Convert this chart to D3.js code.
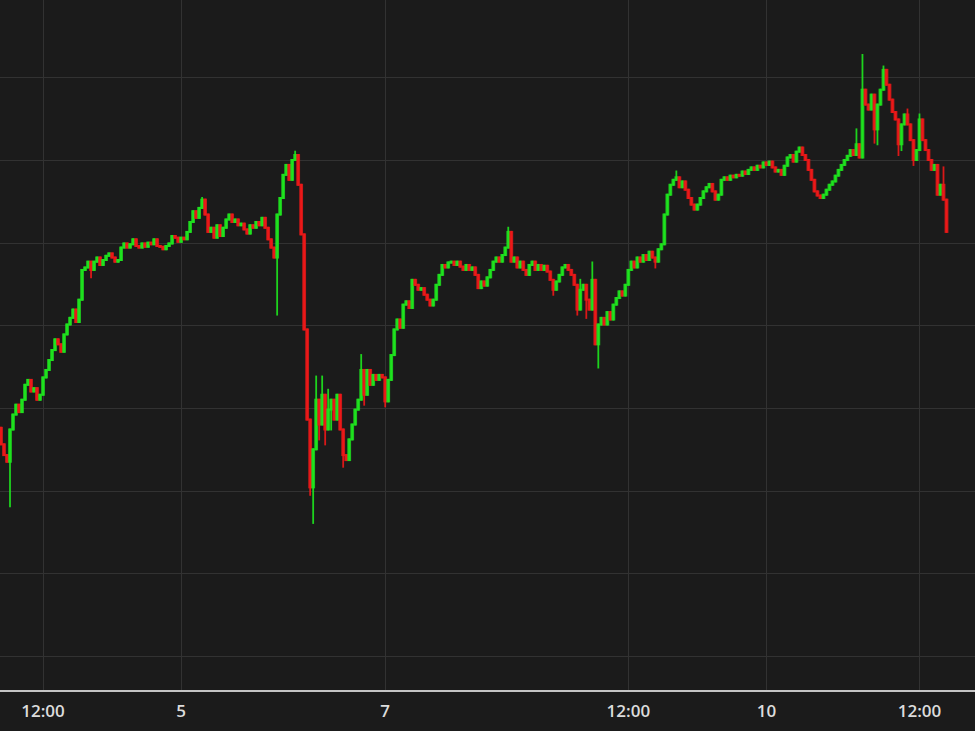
<!DOCTYPE html>
<meta charset="utf-8">
<style>

body {
  margin: 0;
  background: #1b1b1b;
}

svg {
  display: block;
}

.grid line {
  stroke: #323232;
  shape-rendering: crispEdges;
}

.axis text {
  font: 600 17px "Open Sans", sans-serif;
  fill: #dcdcdc;
}

.axis path {
  stroke: #c4c4c4;
  stroke-width: 2;
  shape-rendering: crispEdges;
}

.up { fill: #1ee81e; stroke: #1ee81e; }
.down { fill: #f01818; stroke: #f01818; }

</style>
<body>
<svg width="975" height="731"></svg>
<script src="https://d3js.org/d3.v7.min.js"></script>
<script>

// 15 minute closes, open of each bar = previous close
var firstOpen = 127.6;
var closes = [
  125.6,124.3,123.5,127.4,129.2,130.4,129.5,131.0,132.8,133.4,
  132.0,132.4,131.0,131.6,133.7,134.6,135.8,137.0,138.3,137.7,
  136.8,138.9,140.1,140.9,141.9,140.4,143.1,146.7,147.0,147.7,
  146.7,147.7,148.2,147.3,147.9,148.4,148.7,148.2,147.7,147.9,
  149.4,149.9,149.4,149.8,150.4,149.6,149.4,149.9,149.5,150.0,
  149.8,150.4,149.6,149.5,149.2,149.6,149.9,150.8,150.6,150.1,
  150.6,150.4,151.3,152.5,153.8,153.0,154.2,155.2,153.4,151.3,
  151.8,150.6,152.1,150.8,151.8,152.8,153.4,152.5,152.8,152.1,
  152.3,151.6,151.1,152.1,151.8,152.5,152.1,153.0,151.8,150.4,
  149.4,148.2,153.4,155.4,158.2,159.4,157.6,160.0,160.6,157.0,
  151.0,139.5,128.6,120.4,125.0,131.0,128.0,131.6,127.4,129.8,
  131.0,128.6,131.6,127.4,124.3,123.7,126.2,128.0,129.8,131.0,
  134.6,131.6,134.6,132.8,134.0,133.4,134.0,133.7,130.8,133.4,
  136.4,139.5,140.7,139.7,142.5,142.9,142.1,145.5,144.9,144.3,
  144.5,143.7,143.1,142.4,143.1,144.9,146.1,147.3,147.0,147.6,
  147.7,147.3,147.7,147.1,146.7,147.3,146.7,147.0,146.1,144.5,
  145.3,144.8,145.8,146.7,147.7,148.2,147.7,148.5,149.4,151.3,
  147.7,148.2,147.0,147.7,146.7,146.1,147.3,147.7,146.7,147.3,
  146.7,147.2,146.5,145.5,144.3,145.3,146.1,147.0,147.3,146.7,
  146.1,144.9,141.9,144.3,144.9,143.1,141.9,145.5,137.7,140.1,
  140.9,140.1,141.6,140.7,142.5,143.3,144.1,143.6,144.9,146.7,
  147.7,147.0,148.2,147.7,148.5,147.9,148.9,148.2,147.7,149.2,
  149.8,153.4,155.8,157.0,157.6,157.9,156.7,157.4,156.4,155.4,
  154.6,154.0,154.6,155.4,156.2,156.7,157.1,156.2,155.2,155.8,
  157.6,157.9,157.6,158.1,157.9,158.2,158.1,158.6,158.3,158.8,
  159.1,158.8,159.3,159.1,159.7,159.4,159.8,159.1,158.6,158.8,
  158.2,159.3,160.3,160.6,159.8,161.0,161.5,160.6,160.0,158.8,
  157.6,156.2,155.7,155.4,155.8,156.4,157.0,157.4,158.1,158.8,
  159.4,160.0,160.5,161.2,160.6,161.9,160.3,168.5,166.7,166.1,
  167.9,163.7,166.7,168.5,170.9,169.1,167.3,165.8,164.9,161.9,
  164.3,165.5,164.3,162.4,160.0,161.2,164.9,162.4,161.2,160.0,
  158.8,159.4,155.8,157.0,155.2,151.3
];

// bars whose wick reaches past the body (bar index -> price)
var wickLows = {3: 118.1, 30: 145.8, 92: 141.3, 103: 119.5, 104: 116.1, 106: 126.2,
  108: 125.6, 110: 127.4, 114: 122.9, 121: 130.4, 128: 130.2, 184: 143.7, 192: 141.3,
  195: 140.9, 199: 134.9, 218: 147.0, 291: 162.1, 292: 161.9, 299: 160.6, 300: 161.2,
  304: 159.4};
var wickHighs = {67: 155.4, 98: 161.0, 105: 133.8, 107: 133.8, 109: 132.2, 120: 136.4,
  169: 151.8, 193: 145.5, 197: 147.6, 225: 158.6, 285: 163.7, 287: 172.7, 294: 171.3,
  296: 168.5, 302: 166.1, 306: 165.5, 312: 159.1, 314: 159.1};

var tickIndex = [14, 60, 128, 209, 255, 306];
var tickText = ["12:00", "5", "7", "12:00", "10", "12:00"];
var gridPrices = [100, 110, 120, 130, 140, 150, 160, 170];

var svg = d3.select("svg"),
    width = +svg.attr("width"),
    axisY = 690;

var data = closes.map(function(c, i) {
  var o = i ? closes[i - 1] : firstOpen;
  var hi = Math.max(o, c), lo = Math.min(o, c);
  if (wickHighs[i] != null) hi = Math.max(hi, wickHighs[i]);
  if (wickLows[i] != null) lo = Math.min(lo, wickLows[i]);
  return {i: i, open: o, close: c, high: hi, low: lo};
});

var x = d3.scaleBand()
    .domain(data.map(function(d) { return d.i; }))
    .range([-0.5, 948])
    .paddingInner(0)
    .paddingOuter(0);

var y = d3.scaleLinear()
    .domain([100, 170])
    .range([656, 77.3]);

// grid
var grid = svg.append("g").attr("class", "grid");

grid.selectAll(".h")
  .data(gridPrices)
  .enter().append("line")
    .attr("class", "h")
    .attr("x1", 0)
    .attr("x2", width)
    .attr("y1", function(d) { return Math.round(y(d)) + 0.5; })
    .attr("y2", function(d) { return Math.round(y(d)) + 0.5; });

grid.selectAll(".v")
  .data(tickIndex)
  .enter().append("line")
    .attr("class", "v")
    .attr("x1", function(d) { return x(d) + x.bandwidth() / 2; })
    .attr("x2", function(d) { return x(d) + x.bandwidth() / 2; })
    .attr("y1", 0)
    .attr("y2", axisY);

// candles, slightly wider than a step so neighbours blend
var candle = svg.append("g").selectAll("g")
  .data(data)
  .enter().append("g")
    .attr("class", function(d) { return d.close >= d.open ? "up" : "down"; })
    .attr("fill-opacity", 0.82)
    .attr("stroke-opacity", 0.9);

candle.append("line")
    .attr("x1", function(d) { return x(d.i) + x.bandwidth() / 2; })
    .attr("x2", function(d) { return x(d.i) + x.bandwidth() / 2; })
    .attr("y1", function(d) { return y(d.high) - 1; })
    .attr("y2", function(d) { return y(d.low) + 1; })
    .attr("stroke-width", 1.8);

candle.append("rect")
    .attr("stroke", "none")
    .attr("x", function(d) { return x(d.i) - 0.4; })
    .attr("width", x.bandwidth() + 0.8)
    .attr("y", function(d) { return y(Math.max(d.open, d.close)) - 1; })
    .attr("height", function(d) { return Math.max(3, Math.abs(y(d.open) - y(d.close)) + 2); });

// time axis
svg.append("rect")
    .attr("x", 0)
    .attr("y", axisY)
    .attr("width", width)
    .attr("height", 731 - axisY)
    .attr("fill", "#1b1b1b");

svg.append("g")
    .attr("class", "axis")
    .attr("transform", "translate(0," + axisY + ")")
    .call(d3.axisBottom(x)
      .tickValues(tickIndex)
      .tickFormat(function(d, k) { return tickText[k]; })
      .tickSize(0)
      .tickPadding(15))
    .call(function(g) {
      g.select(".domain").attr("d", "M0,0.5H" + width);
    });

</script>
</body>
